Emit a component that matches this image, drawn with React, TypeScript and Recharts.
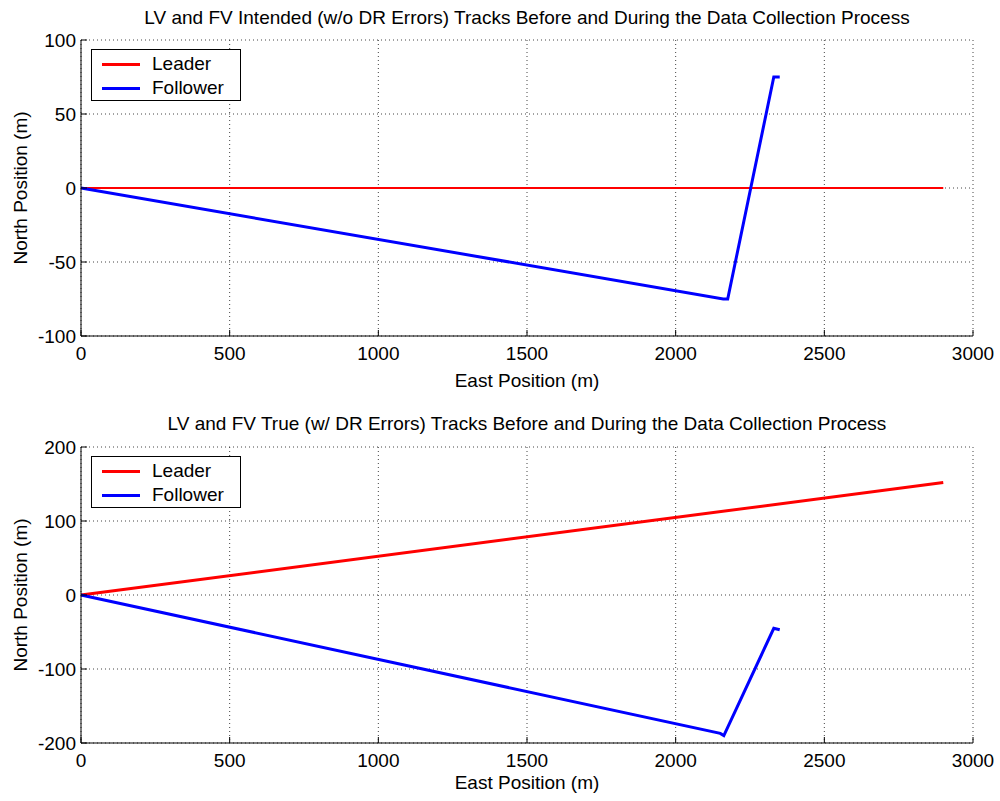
import React from 'react';
import { LineChart, Line, XAxis, YAxis, CartesianGrid, Legend, Label } from 'recharts';

const FONT = 'Arial, "Liberation Sans", Helvetica, sans-serif';

const eastTicks = [0, 500, 1000, 1500, 2000, 2500, 3000];
const northTicksIntended = [-100, -50, 0, 50, 100];
const northTicksTrue = [-200, -100, 0, 100, 200];
const seriesNames = ['Leader', 'Follower'];

// intended tracks (w/o DR errors)
const leaderIntendedEast = [0, 1350, 2700, 2900];
const leaderIntendedNorth = [0, 0, 0, 0];
const followerIntendedEast = [0, 2160, 2175, 2330, 2350];
const followerIntendedNorth = [0, -75, -75, 75, 75];

// true tracks (w/ DR errors)
const leaderTrueEast = [0, 2900];
const leaderTrueNorth = [0, 152];
const followerTrueEast = [0, 2150, 2162, 2330, 2350];
const followerTrueNorth = [0, -187, -190, -45, -47];

const toPoints = (xs: number[], ys: number[]) => xs.map((x, i) => ({ east: x, north: ys[i] }));

const W = 1000;
const H = 394;
const FS = 19;

const LegendBox = (props: any) => {
  const payload = [...(props.payload || [])].sort(
    (a: any, b: any) => seriesNames.indexOf(a.value) - seriesNames.indexOf(b.value)
  );
  return (
    <div
      style={{
        border: '1px solid #000',
        background: '#fff',
        width: 150,
        height: 52,
        paddingTop: 2,
        boxSizing: 'border-box',
        fontSize: FS,
        lineHeight: '24px',
        fontFamily: FONT,
        color: '#000',
      }}
    >
      {payload.map((p: any) => (
        <div key={p.value} style={{ display: 'flex', alignItems: 'center' }}>
          <span
            style={{ display: 'inline-block', width: 38, height: 3, background: p.color, margin: '0 12px 0 10px' }}
          />
          <span>{p.value}</span>
        </div>
      ))}
    </div>
  );
};

const makeXTitle = (dy: number) => (props: any) => {
  const vb = props.viewBox;
  return (
    <text x={vb.x + vb.width / 2} y={vb.y + dy} textAnchor="middle" fontSize={FS} fill="#000" fontFamily={FONT}>
      East Position (m)
    </text>
  );
};

const YTitle = (props: any) => {
  const vb = props.viewBox;
  const cx = 20;
  const cy = vb.y + vb.height / 2;
  return (
    <text
      x={cx}
      y={cy}
      transform={`rotate(-90 ${cx} ${cy})`}
      textAnchor="middle"
      dominantBaseline="central"
      fontSize={FS}
      fill="#000"
      fontFamily={FONT}
    >
      North Position (m)
    </text>
  );
};

type TrackProps = {
  title: string;
  top: number;
  leader: { east: number; north: number }[];
  follower: { east: number; north: number }[];
  yTicks: number[];
  leaderWidth: number;
  xTitleDy: number;
  titleTop: number;
};

const TrackPlot = ({ title, top, leader, follower, yTicks, leaderWidth, xTitleDy, titleTop }: TrackProps) => {
  const yDomain = [yTicks[0], yTicks[yTicks.length - 1]];
  return (
    <div style={{ position: 'absolute', left: 0, top, width: W, height: H }}>
      <LineChart width={W} height={H} margin={{ top: 40, right: 27, bottom: 6, left: 11 }}>
        <CartesianGrid stroke="#444" strokeDasharray="1 3" />
        <XAxis
          dataKey="east"
          type="number"
          domain={[0, 3000]}
          ticks={eastTicks}
          interval={0}
          height={52}
          tickSize={-6}
          tickMargin={17}
          tick={{ fill: '#000', fontSize: FS, fontFamily: FONT }}
          axisLine={{ stroke: '#000' }}
          tickLine={{ stroke: '#000' }}
        >
          <Label content={makeXTitle(xTitleDy)} />
        </XAxis>
        <XAxis
          xAxisId="top"
          orientation="top"
          type="number"
          domain={[0, 3000]}
          ticks={eastTicks}
          interval={0}
          height={0}
          tickSize={-6}
          tick={false}
          axisLine={{ stroke: '#000' }}
          tickLine={{ stroke: '#000' }}
        />
        <YAxis
          type="number"
          domain={yDomain}
          ticks={yTicks}
          interval={0}
          width={70}
          tickSize={-6}
          tickMargin={11}
          tick={{ fill: '#000', fontSize: FS, fontFamily: FONT }}
          axisLine={{ stroke: '#000' }}
          tickLine={{ stroke: '#000' }}
        >
          <Label content={YTitle} />
        </YAxis>
        <YAxis
          yAxisId="right"
          orientation="right"
          type="number"
          domain={yDomain}
          ticks={yTicks}
          interval={0}
          width={0}
          tickSize={-6}
          tick={false}
          axisLine={{ stroke: '#000' }}
          tickLine={{ stroke: '#000' }}
        />
        <Legend
          layout="horizontal"
          verticalAlign="middle"
          align="center"
          width={150}
          height={52}
          content={LegendBox}
          wrapperStyle={{ left: 91, top: 49 }}
        />
        <Line
          data={leader}
          dataKey="north"
          name="Leader"
          type="linear"
          stroke="#ff0000"
          strokeWidth={leaderWidth}
          dot={false}
          activeDot={false}
          isAnimationActive={false}
        />
        <Line
          data={follower}
          dataKey="north"
          name="Follower"
          type="linear"
          stroke="#0000ff"
          strokeWidth={3}
          dot={false}
          activeDot={false}
          isAnimationActive={false}
        />
      </LineChart>
      <div
        style={{
          position: 'absolute',
          left: 81,
          width: 892,
          top: titleTop,
          textAlign: 'center',
          fontSize: FS,
          lineHeight: '22px',
          fontFamily: FONT,
          color: '#000',
          whiteSpace: 'nowrap',
        }}
      >
        {title}
      </div>
    </div>
  );
};

export default function App() {
  return (
    <div style={{ position: 'absolute', left: 0, top: 0, width: 1000, height: 801, background: '#fff' }}>
      <TrackPlot
        title="LV and FV Intended (w/o DR Errors) Tracks Before and During the Data Collection Process"
        top={0}
        leader={toPoints(leaderIntendedEast, leaderIntendedNorth)}
        follower={toPoints(followerIntendedEast, followerIntendedNorth)}
        yTicks={northTicksIntended}
        leaderWidth={2}
        xTitleDy={51}
        titleTop={7}
      />
      <TrackPlot
        title="LV and FV True (w/ DR Errors) Tracks Before and During the Data Collection Process"
        top={407}
        leader={toPoints(leaderTrueEast, leaderTrueNorth)}
        follower={toPoints(followerTrueEast, followerTrueNorth)}
        yTicks={northTicksTrue}
        leaderWidth={3}
        xTitleDy={46}
        titleTop={6}
      />
    </div>
  );
}
